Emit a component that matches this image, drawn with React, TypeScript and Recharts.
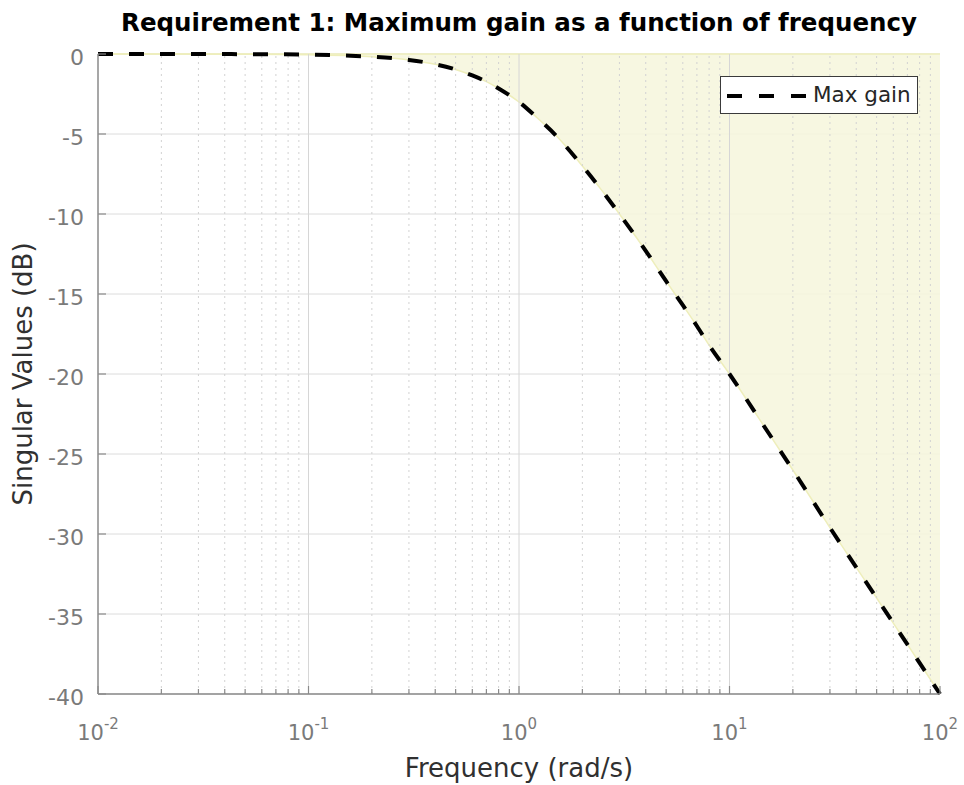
import {
  Area,
  CartesianGrid,
  ComposedChart,
  Label,
  Legend,
  Line,
  ReferenceLine,
  XAxis,
  YAxis,
} from 'recharts';

// frequency in rad/s, gain in dB
const frequency = [
  0.01, 0.02, 0.05, 0.1, 0.15, 0.2, 0.3, 0.4, 0.5, 0.6, 0.7, 0.8, 1, 1.2, 1.5, 2, 2.5, 3, 4, 5,
  6, 7, 8, 10, 15, 20, 30, 50, 70, 100,
];
const maxGain = [
  0, 0, -0.01, -0.04, -0.1, -0.17, -0.37, -0.64, -0.97, -1.34, -1.73, -2.15, -3.0, -3.9, -5.1,
  -7.0, -8.6, -10.0, -12.3, -14.2, -15.7, -17.0, -18.2, -20.0, -23.5, -26.0, -29.6, -34.0,
  -36.9, -40.0,
];

const majorFreqTicks = [0.01, 0.1, 1, 10, 100];
const freqExponents = ['-2', '-1', '0', '1', '2'];
const minorFreqTicks = [
  0.02, 0.03, 0.04, 0.05, 0.06, 0.07, 0.08, 0.09,
  0.2, 0.3, 0.4, 0.5, 0.6, 0.7, 0.8, 0.9,
  2, 3, 4, 5, 6, 7, 8, 9,
  20, 30, 40, 50, 60, 70, 80, 90,
];
const gainTicks = [-40, -35, -30, -25, -20, -15, -10, -5, 0];

const data = frequency.map((f, i) => ({ freq: f, gain: maxGain[i] }));
const allFreqTicks = [...majorFreqTicks, ...minorFreqTicks].sort((a, b) => a - b);

const AXIS = '#8a8a8a';
const TICK_TEXT = '#7a7a7a';
const LABEL = '#303030';

function BottomTick(props: any) {
  const { x, y, payload } = props;
  const idx = majorFreqTicks.indexOf(payload.value);
  const len = idx >= 0 ? 8 : 5;
  return (
    <g>
      <line x1={x} x2={x} y1={y} y2={y - len} stroke={AXIS} strokeWidth={1.2} />
      {idx >= 0 && (
        <text x={x} y={y + 46} textAnchor="middle" fill={TICK_TEXT} fontSize={21}>
          <tspan>10</tspan>
          <tspan dy={-11} fontSize={15}>
            {freqExponents[idx]}
          </tspan>
        </text>
      )}
    </g>
  );
}

function TopTick(props: any) {
  const { x, y, payload } = props;
  const len = majorFreqTicks.includes(payload.value) ? 8 : 5;
  return <line x1={x} x2={x} y1={y} y2={y + len} stroke={AXIS} strokeWidth={1.2} />;
}

function LeftTick(props: any) {
  const { x, y, payload } = props;
  return (
    <g>
      <line x1={x} x2={x + 8} y1={y} y2={y} stroke={AXIS} strokeWidth={1.2} />
      <text x={x - 14} y={y + 11} textAnchor="end" fill={TICK_TEXT} fontSize={22}>
        {payload.value}
      </text>
    </g>
  );
}

function RightTick(props: any) {
  const { x, y } = props;
  return <line x1={x} x2={x - 8} y1={y} y2={y} stroke={AXIS} strokeWidth={1.2} />;
}

const renderLegend = () => (
  <div
    style={{
      width: 198,
      height: 38,
      boxSizing: 'border-box',
      border: '1.5px solid #3a3a3a',
      background: '#fff',
      display: 'flex',
      alignItems: 'center',
    }}
  >
    <svg width={92} height={35} style={{ display: 'block' }}>
      <line x1={6} x2={86} y1={18} y2={18} stroke="#000" strokeWidth={4} strokeDasharray="15 17" />
    </svg>
    <span style={{ fontSize: 21.5, color: '#262626', lineHeight: 1 }}>Max gain</span>
  </div>
);

export default function App() {
  return (
    <div
      style={{
        position: 'absolute',
        left: 0,
        top: 0,
        width: 964,
        height: 785,
        background: '#fff',
        fontFamily: 'DejaVu Sans',
      }}
    >
      <div
        style={{
          position: 'absolute',
          left: 98,
          top: 10,
          width: 842,
          textAlign: 'center',
          fontSize: 24.5,
          lineHeight: '25px',
          fontWeight: 'bold',
          color: '#000',
          zIndex: 1,
        }}
      >
        Requirement 1: Maximum gain as a function of frequency
      </div>
      <ComposedChart width={964} height={785} data={data} margin={{ top: 54, right: 24, bottom: 0, left: 0 }}>
        <CartesianGrid vertical={false} stroke="#dcdcdc" strokeWidth={1} />
        {minorFreqTicks.map((f) => (
          <ReferenceLine key={`m${f}`} x={f} stroke="#d2d2d2" strokeDasharray="2 4" strokeWidth={1} />
        ))}
        {majorFreqTicks.slice(1, -1).map((f) => (
          <ReferenceLine key={`M${f}`} x={f} stroke="#d6d6d6" strokeWidth={1} />
        ))}
        <XAxis
          dataKey="freq"
          type="number"
          scale="log"
          domain={[0.01, 100]}
          ticks={allFreqTicks}
          interval={0}
          height={91}
          tickSize={0}
          tickMargin={0}
          tickLine={false}
          tick={BottomTick}
          axisLine={{ stroke: AXIS, strokeWidth: 1.5 }}
        >
          <Label value="Frequency (rad/s)" position="insideBottom" offset={8} fill={LABEL} fontSize={26} />
        </XAxis>
        <XAxis
          xAxisId="top"
          orientation="top"
          dataKey="freq"
          type="number"
          scale="log"
          domain={[0.01, 100]}
          ticks={allFreqTicks}
          interval={0}
          height={0}
          tickSize={0}
          tickMargin={0}
          tickLine={false}
          tick={TopTick}
          axisLine={false}
        />
        <YAxis
          type="number"
          domain={[-40, 0]}
          ticks={gainTicks}
          interval={0}
          width={98}
          tickSize={0}
          tickMargin={0}
          tickLine={false}
          tick={LeftTick}
          axisLine={{ stroke: AXIS, strokeWidth: 1.5 }}
        >
          <Label
            value="Singular Values (dB)"
            position="insideLeft"
            offset={23}
            angle={-90}
            fill={LABEL}
            fontSize={26}
            style={{ textAnchor: 'middle' }}
          />
        </YAxis>
        <YAxis
          yAxisId="right"
          orientation="right"
          type="number"
          domain={[-40, 0]}
          ticks={gainTicks}
          interval={0}
          width={0}
          tickSize={0}
          tickMargin={0}
          tickLine={false}
          tick={RightTick}
          axisLine={{ stroke: '#a6a69a', strokeWidth: 1.5 }}
        />
        <Area
          dataKey={(d: any) => [d.gain, 0]}
          type="monotone"
          fill="#f6f6dc"
          fillOpacity={0.85}
          stroke="#eeeebb"
          strokeWidth={1.5}
          isAnimationActive={false}
          legendType="none"
        />
        <Line
          dataKey="gain"
          type="monotone"
          stroke="#000"
          strokeWidth={4}
          strokeDasharray="15 16"
          dot={false}
          activeDot={false}
          isAnimationActive={false}
        />
        <Legend
          layout="vertical"
          align="center"
          verticalAlign="middle"
          content={renderLegend}
          wrapperStyle={{ left: 720, top: 76, width: 198, height: 38 }}
        />
      </ComposedChart>
    </div>
  );
}
